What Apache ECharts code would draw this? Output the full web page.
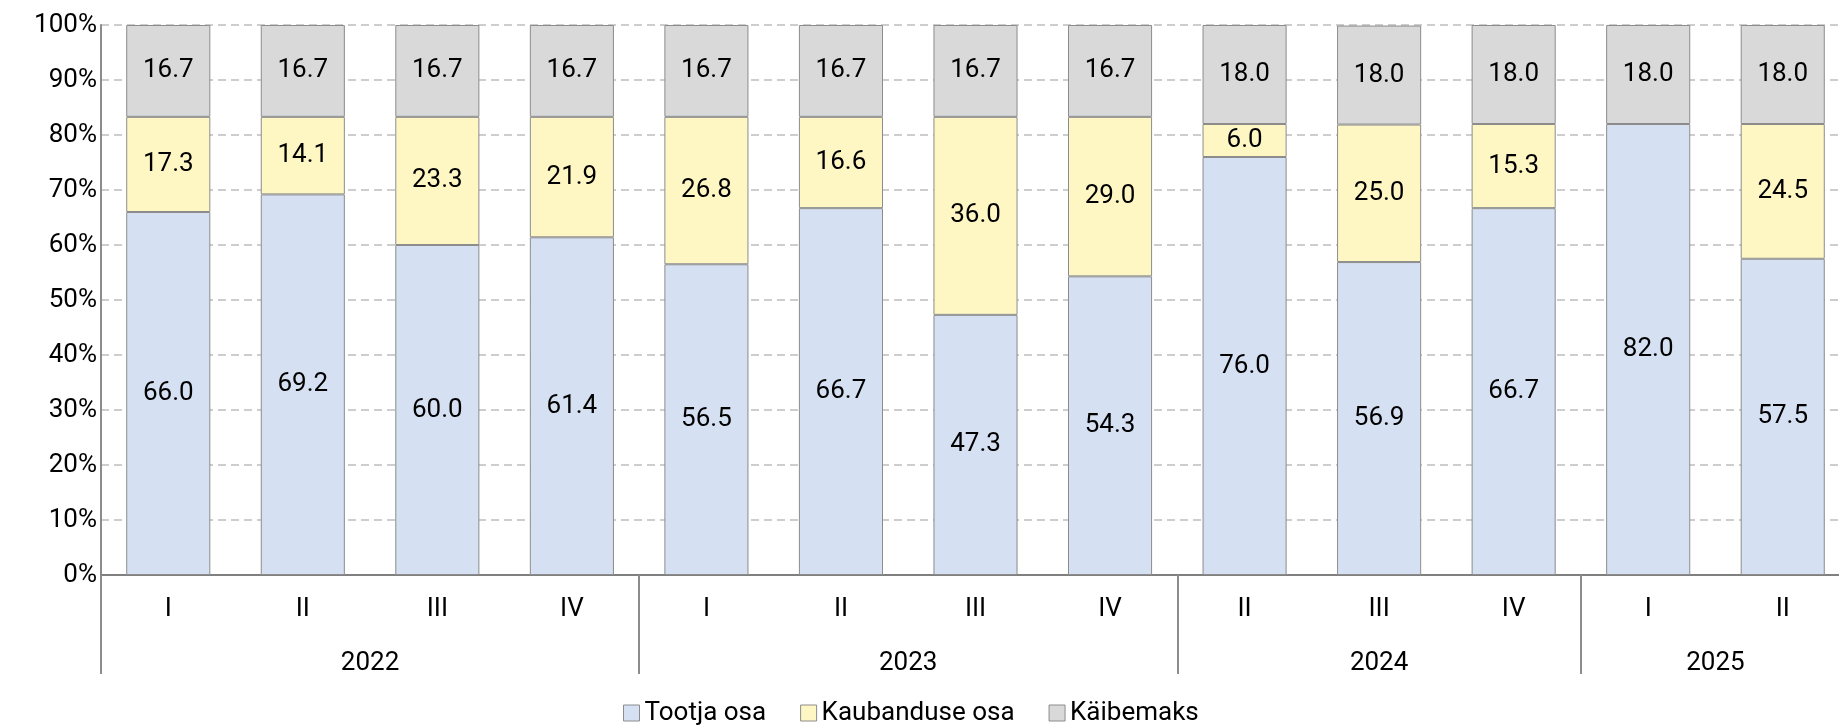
<!DOCTYPE html>
<html>
<head>
<meta charset="utf-8">
<script src="https://cdn.jsdelivr.net/npm/echarts@6/dist/echarts.min.js"></script>
<style>
  html, body { margin: 0; padding: 0; background: #fff; overflow: hidden; }
  /* the plot area runs a few pixels past the right edge of the window */
  #chart { width: 1850px; height: 725px; }
</style>
</head>
<body>
<div id="chart"></div>
<script>
// Quarters and the year each one belongs to
const quarters = ['I', 'II', 'III', 'IV', 'I', 'II', 'III', 'IV', 'II', 'III', 'IV', 'I', 'II'];
const years = ['2022', '2023', '2024', '2025'];
const quartersPerYear = [4, 4, 3, 2];

// Price structure, % of retail price
const producerShare = [66.0, 69.2, 60.0, 61.4, 56.5, 66.7, 47.3, 54.3, 76.0, 56.9, 66.7, 82.0, 57.5];
const tradeShare    = [17.3, 14.1, 23.3, 21.9, 26.8, 16.6, 36.0, 29.0, 6.0, 25.0, 15.3, null, 24.5];
const vatShare      = [16.7, 16.7, 16.7, 16.7, 16.7, 16.7, 16.7, 16.7, 18.0, 18.0, 18.0, 18.0, 18.0];

const seriesNames = ['Tootja osa', 'Kaubanduse osa', 'Käibemaks'];
const seriesColors = ['#D5E0F2', '#FFF7C3', '#D9D9D9'];

const FONT = 'Roboto';
const FONT_SIZE = 26;
const TEXT = '#000';

// Year group boundaries and centres in category units
const bounds = [0];
quartersPerYear.forEach(n => bounds.push(bounds[bounds.length - 1] + n));
const centres = years.map((y, i) => (bounds[i] + bounds[i + 1]) / 2);

function barSeries(name, data, color) {
  return {
    name: name,
    type: 'bar',
    stack: 'total',
    data: data,
    barCategoryGap: '37.5%',
    itemStyle: { color: color, borderColor: '#8C8C8C', borderWidth: 1 },
    label: {
      show: true,
      position: 'inside',
      fontFamily: FONT,
      fontSize: FONT_SIZE,
      color: TEXT,
      formatter: p => (p.value == null ? '' : p.value.toFixed(1))
    },
    emphasis: { disabled: true }
  };
}

const chart = echarts.init(document.getElementById('chart'), null, { renderer: 'canvas' });
chart.setOption({
  animation: false,
  textStyle: { fontFamily: FONT },
  grid: { left: 101, right: 0, top: 25, height: 550, containLabel: false },
  legend: {
    top: 695,
    left: 618,
    icon: 'rect',
    itemWidth: 16,
    itemHeight: 16,
    itemGap: 34,
    itemStyle: { borderColor: '#8C8C8C', borderWidth: 1 },
    textStyle: { fontFamily: FONT, fontSize: FONT_SIZE, color: TEXT },
    data: seriesNames
  },
  xAxis: [
    {
      type: 'category',
      data: quarters,
      position: 'bottom',
      axisLine: { show: true, lineStyle: { color: '#808080', width: 2 } },
      axisTick: { show: false },
      axisLabel: { fontFamily: FONT, fontSize: FONT_SIZE, color: TEXT, margin: 21, interval: 0 },
      splitLine: { show: false }
    },
    {
      type: 'value',
      min: 0,
      max: quarters.length,
      position: 'bottom',
      axisLine: { show: false },
      axisTick: {
        show: true,
        customValues: bounds,
        length: 99,
        lineStyle: { color: '#8C8C8C', width: 2 }
      },
      axisLabel: {
        show: true,
        customValues: centres,
        margin: 75,
        fontFamily: FONT,
        fontSize: FONT_SIZE,
        color: TEXT,
        formatter: v => {
          const i = centres.indexOf(v);
          return i >= 0 ? years[i] : '';
        }
      },
      splitLine: { show: false }
    }
  ],
  yAxis: {
    type: 'value',
    min: 0,
    max: 100,
    interval: 10,
    axisLine: { show: true, lineStyle: { color: '#8C8C8C', width: 2 } },
    axisTick: { show: false },
    axisLabel: { fontFamily: FONT, fontSize: FONT_SIZE, color: TEXT, margin: 4, formatter: '{value}%' },
    splitLine: { show: true, lineStyle: { color: '#BDBDBD', type: [8, 5], width: 1.5 } }
  },
  series: [
    barSeries(seriesNames[0], producerShare, seriesColors[0]),
    barSeries(seriesNames[1], tradeShare, seriesColors[1]),
    barSeries(seriesNames[2], vatShare, seriesColors[2])
  ]
});
</script>
</body>
</html>
